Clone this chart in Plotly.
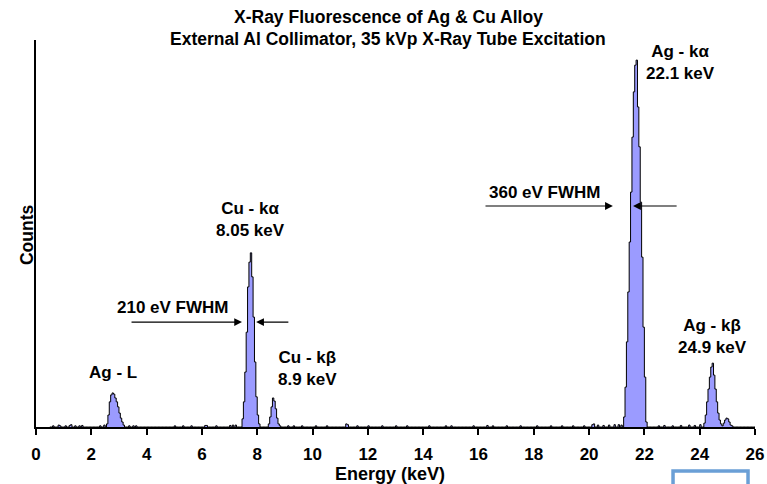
import numpy as np
import plotly.graph_objects as go

# ---------------- data ----------------
CHANNEL_KEV = 0.05
SPEC_START, SPEC_END = 0.5, 26.0

# peak regions: start energy (keV) and counts per 0.05 keV channel
ag_l_start = 2.55
ag_l_counts = [8, 31, 65, 83, 88, 85, 75, 65, 52, 36, 23, 13, 5]

cu_ka_start = 7.45
cu_ka_counts = [21, 65, 142, 245, 362, 426, 450, 388, 284, 168, 78, 31, 8]

cu_kb_start = 8.40
cu_kb_counts = [8, 26, 52, 75, 67, 47, 23, 8, 3]

ag_ka_start = 21.25
ag_ka_counts = [26, 103, 220, 349, 478, 607, 749, 866, 935, 948, 827, 724,
                581, 439, 258, 129, 13]

ag_kb_start = 24.15
ag_kb_counts = [10, 31, 65, 98, 129, 155, 165, 134, 98, 65, 36, 18, 8, 3,
                10, 18, 23, 21, 13, 5, 3]

# small background counts along the baseline
noise_energy = [0.6, 0.8, 0.85, 1.05, 1.2, 1.25, 1.4, 1.55, 1.65, 2.3, 2.45,
                3.35, 3.5, 3.6, 5.0, 5.3, 5.6, 6.1, 6.15, 6.5, 7.0, 7.1, 7.2,
                9.1, 9.3, 9.6, 10.1, 10.5, 11.2, 11.25, 11.6, 12.0, 12.5,
                13.0, 13.4, 14.2, 14.8, 15.0, 15.8, 16.3, 16.5, 17.0, 17.5,
                18.1, 18.6, 19.0, 19.4, 19.8, 20.1, 20.15, 20.3, 20.5, 20.7,
                20.9, 21.05, 21.15, 22.5, 22.7, 23.0, 23.3, 23.6, 23.8, 24.0]
noise_counts = [3, 5, 3, 3, 4, 6, 3, 3, 4, 3, 5,
                3, 3, 3, 3, 3, 3, 4, 4, 3, 4, 5, 5,
                3, 3, 3, 3, 3, 8, 6, 3, 3, 3,
                3, 3, 3, 3, 3, 3, 4, 3, 3, 3,
                3, 3, 3, 3, 3, 6, 8, 5, 4, 5,
                6, 6, 5, 3, 4, 3, 4, 5, 4, 6]

x_ticks = list(range(0, 27, 2))

# ---------------- build the channel table ----------------
n_ch = int(round((SPEC_END - SPEC_START) / CHANNEL_KEV))
energy = SPEC_START + CHANNEL_KEV * np.arange(n_ch + 1)
counts = np.zeros(n_ch + 1)


def idx(e):
    return int(round((e - SPEC_START) / CHANNEL_KEV))


for e, c in zip(noise_energy, noise_counts):
    counts[idx(e)] = c
for start, vals in [(ag_l_start, ag_l_counts), (cu_ka_start, cu_ka_counts),
                    (cu_kb_start, cu_kb_counts), (ag_ka_start, ag_ka_counts),
                    (ag_kb_start, ag_kb_counts)]:
    i0 = idx(start)
    counts[i0:i0 + len(vals)] = vals

# ---------------- figure ----------------
FONT = "Liberation Sans, Arial, sans-serif"
fig = go.Figure()
fig.add_trace(go.Scatter(
    x=energy, y=counts, mode="lines", line=dict(shape="hv", color="black", width=1),
    fill="tozeroy", fillcolor="#9b9bff", hoverinfo="skip", showlegend=False))

anno = []


def label(text, x, y, size=17):
    anno.append(dict(text=text, x=x, y=y, xref="x", yref="y", showarrow=False,
                     xanchor="center", yanchor="middle",
                     font=dict(family=FONT, size=size, color="black", weight="bold")))


label("Ag - kα<br>22.1 keV", 23.32, 941)
label("Cu - kα<br>8.05 keV", 7.74, 537)
label("Ag - L", 2.78, 142)
label("Cu - kβ<br>8.9 keV", 9.80, 150)
label("Ag - kβ<br>24.9 keV", 24.48, 235)
label("210 eV FWHM", 4.95, 310, 17)
label("360 eV FWHM", 18.37, 607, 17)


def arrow(x_tail, x_head, y):
    anno.append(dict(x=x_head, y=y, ax=x_tail, ay=y, xref="x", yref="y",
                     axref="x", ayref="y", text="", showarrow=True,
                     arrowhead=2, arrowsize=1.3, arrowwidth=1.2, arrowcolor="black"))


arrow(3.40, 7.45, 271)
arrow(9.18, 7.96, 271)
arrow(16.20, 20.86, 571)
arrow(23.22, 21.59, 571)

# titles
anno.append(dict(text="X-Ray Fluorescence of Ag & Cu Alloy", x=0.4896, y=1.059,
                 xref="paper", yref="paper", showarrow=False, xanchor="center", yanchor="middle",
                 font=dict(family=FONT, size=17.5, color="black", weight="bold")))
anno.append(dict(text="External Al Collimator, 35 kVp X-Ray Tube Excitation", x=0.4896, y=1.0026,
                 xref="paper", yref="paper", showarrow=False, xanchor="center", yanchor="middle",
                 font=dict(family=FONT, size=17.5, color="black", weight="bold")))
anno.append(dict(text="Counts", x=-0.0125, y=0.496, xref="paper", yref="paper",
                 showarrow=False, textangle=-90, xanchor="center", yanchor="middle",
                 font=dict(family=FONT, size=17.5, color="black", weight="bold")))
anno.append(dict(text="Energy (keV)", x=0.4924, y=-0.1214, xref="paper", yref="paper",
                 showarrow=False, xanchor="center", yanchor="middle",
                 font=dict(family=FONT, size=18, color="black", weight="bold")))

fig.update_layout(
    width=767, height=484,
    margin=dict(l=36, r=12, t=40, b=57, autoexpand=False),
    paper_bgcolor="white", plot_bgcolor="white",
    annotations=anno,
    shapes=[dict(type="rect", xref="paper", yref="paper",
                 x0=0.8860, x1=0.9903, y0=-0.18, y1=-0.1137,
                 line=dict(color="#6a9fd6", width=3.5), fillcolor="rgba(0,0,0,0)")],
)
fig.update_xaxes(range=[0, 26], tickvals=x_ticks, ticktext=[str(t) for t in x_ticks],
                 showline=True, linecolor="black", linewidth=1.5, mirror=False,
                 ticks="outside", ticklen=6, tickwidth=1.5, tickcolor="black",
                 ticklabelstandoff=5, showgrid=False, zeroline=False, automargin=False,
                 tickfont=dict(family=FONT, size=17, color="black", weight="bold"))
fig.update_yaxes(range=[0, 1000], showline=True, linecolor="black", linewidth=1.5,
                 showticklabels=False, ticks="", showgrid=False, zeroline=False,
                 automargin=False)

# remove the default 8 px page margin so the 767x484 figure fills the window
fig.write_html("out.html", config={"displayModeBar": False, "responsive": False},
               post_script="document.body.style.margin='0';"
                           "document.body.style.overflow='hidden';")
